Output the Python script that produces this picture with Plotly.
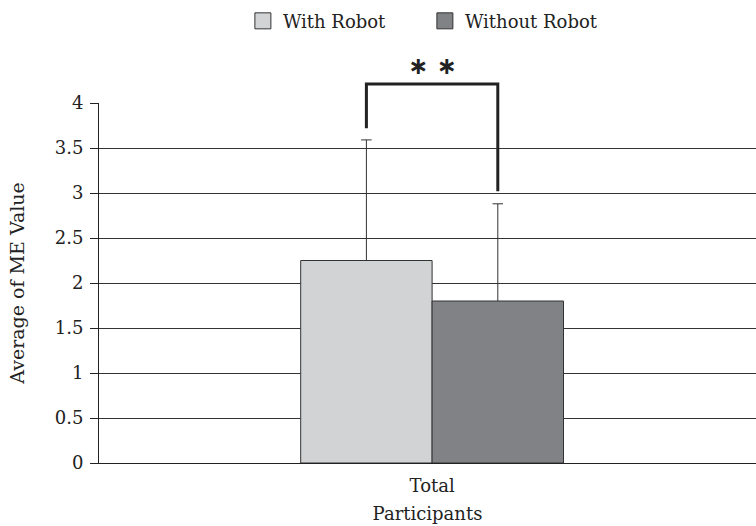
import plotly.graph_objects as go

categories = ["Total"]
series_names = ["With Robot", "Without Robot"]
means = [2.25, 1.80]
sd_upper = [1.34, 1.08]
colors = ["#d1d3d4", "#808285"]
y_ticks = [0, 0.5, 1, 1.5, 2, 2.5, 3, 3.5, 4]
y_ticklabels = ["0", "0.5", "1", "1.5", "2", "2.5", "3", "3.5", "4"]
bracket_left_y = 3.72
bracket_top_y = 4.21
bracket_right_y = 3.02
sig_label = "<b>∗ ∗</b>"
sig_label_y = 4.40

FONT = "DejaVu Serif, Liberation Serif, serif"
ymax = 4.0
bar_w = 0.2
x_range = [-0.507, 0.493]
cap_half = 0.008
offsets = [-bar_w / 2, bar_w / 2]

fig = go.Figure()
for name, m, c, off in zip(series_names, means, colors, offsets):
    fig.add_trace(go.Bar(
        name=name, x=[off], y=[m], width=bar_w, legendgroup=name, showlegend=False,
        marker=dict(color=c, line=dict(color="#333333", width=1)),
    ))
    # legend entry with a larger swatch
    fig.add_trace(go.Scatter(
        name=name, x=[None], y=[None], mode="markers", legendgroup=name, showlegend=True,
        marker=dict(symbol="square", size=16, color=c, line=dict(color="#333333", width=1)),
        hoverinfo="skip",
    ))
# error bars (upper only), drawn from the data
for m, e, off in zip(means, sd_upper, offsets):
    fig.add_trace(go.Scatter(
        x=[off, off, None, off - cap_half, off + cap_half],
        y=[m, m + e, None, m + e, m + e],
        mode="lines", line=dict(color="#333333", width=1),
        showlegend=False, hoverinfo="skip",
    ))

xl, xr = offsets
fig.add_shape(type="path", xref="x", yref="paper",
              path=f"M {xl} {bracket_left_y/ymax} L {xl} {bracket_top_y/ymax} L {xr} {bracket_top_y/ymax} L {xr} {bracket_right_y/ymax}",
              line=dict(color="#222222", width=3))
fig.add_annotation(x=0, xref="x", y=sig_label_y / ymax, yref="paper", yshift=17,
                   text=sig_label, showarrow=False,
                   font=dict(family="DejaVu Sans", size=24, color="#222222"))

fig.update_layout(
    width=756, height=526,
    margin=dict(l=99, r=0, t=103, b=63),
    paper_bgcolor="white", plot_bgcolor="white",
    barmode="overlay",
    font=dict(family=FONT, size=18, color="#222222"),
    legend=dict(orientation="h", x=0.219, xanchor="left", xref="paper",
                y=0.995, yref="container", yanchor="top",
                font=dict(family=FONT, size=18, color="#222222"),
                itemwidth=30, traceorder="normal",
                entrywidth=137, entrywidthmode="pixels"),
    showlegend=True,
)
fig.update_xaxes(range=x_range, tickvals=[0], ticktext=categories, automargin=False,
                 showline=True, linecolor="#222222", linewidth=1,
                 ticks="", showgrid=False, zeroline=False, tickfont=dict(size=18),
                 ticklabelstandoff=6,
                 title=dict(text="Participants", font=dict(size=18), standoff=12))
fig.update_yaxes(range=[0, ymax], tickvals=y_ticks, ticktext=y_ticklabels, automargin=False,
                 showline=True, linecolor="#222222", linewidth=1,
                 ticks="outside", ticklen=8, tickcolor="#222222",
                 showgrid=True, gridcolor="#333333", gridwidth=1,
                 zeroline=False, tickfont=dict(size=18), ticklabelstandoff=3,
                 title=dict(text="Average of ME Value", font=dict(size=19), standoff=25))

fig.write_html("out.html", post_script="document.body.style.margin='0';",
               config={"displayModeBar": False})
